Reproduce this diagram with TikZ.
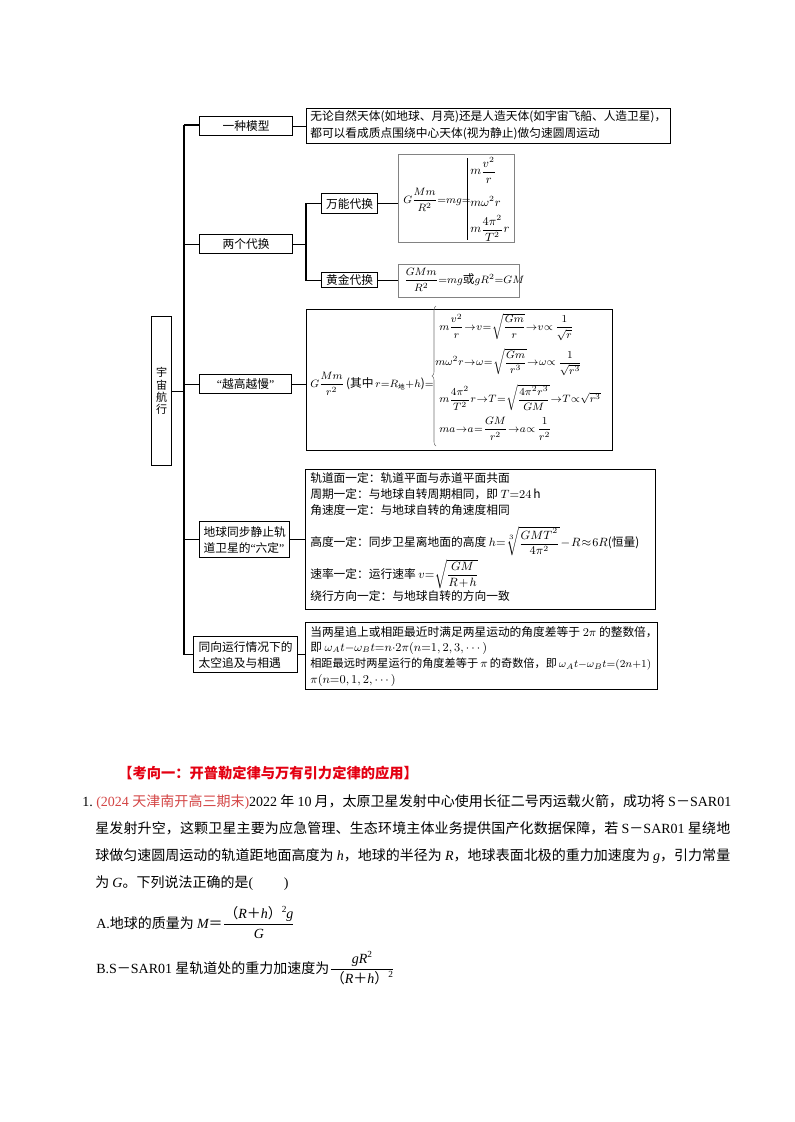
\documentclass[tikz,border=0pt]{standalone}
\usepackage{amsmath}
\usepackage[no-math]{fontspec}
\setmainfont{Noto Sans CJK SC}
\newfontfamily\lat{Liberation Serif}
\usetikzlibrary{decorations.pathreplacing}
\XeTeXlinebreaklocale "zh"
\XeTeXlinebreakskip=0pt plus 2pt minus 0.6pt
\XeTeXlinebreakpenalty=10000
\definecolor{hred}{RGB}{228,0,18}
\definecolor{sred}{RGB}{212,70,70}
\definecolor{bgray}{RGB}{130,130,130}
\newcommand\dfont{\fontsize{8.8}{10.5}\selectfont}
\newcommand\mfont{\fontsize{8}{9.5}\selectfont\thickmuskip=0.8mu plus 1mu\medmuskip=1mu\relax}
\newcommand\nfont{\fontsize{9}{10.5}\selectfont\thickmuskip=1.5mu plus 1mu\medmuskip=1.5mu\relax}
\newcommand\tfont{\fontsize{9}{10.5}\selectfont\thickmuskip=0mu\medmuskip=0mu\relax}
\newcommand\qfont{\fontsize{10.5}{13}\selectfont}
\newcommand\myit[1]{{\lat\itshape #1}}
\newcommand\supt[1]{\raisebox{0.75ex}{\fontsize{7}{8}\selectfont\lat #1}}
\newcommand\qline[1]{\parbox[b]{476.25pt}{\parfillskip=0pt\relax #1}}
\begin{document}
\begin{tikzpicture}[x=0.75pt,y=-0.75pt,
  box/.style={draw,line width=1pt,inner sep=0pt,anchor=north west,font=\dfont},
  gbox/.style={box,draw=bgray},
  wh/.style 2 args={minimum width=#1*0.75pt,minimum height=#2*0.75pt},
  conn/.style={line width=1pt},
  txt/.style={inner sep=0pt,anchor=west,font=\dfont},
  mtxt/.style={inner sep=0pt,anchor=west,font=\mfont},
  ntxt/.style={inner sep=0pt,anchor=west,font=\nfont},
  qtxt/.style={inner sep=0pt,anchor=base west,font=\qfont}]
\fill[white] (0,0) rectangle (794,1122);
\path[use as bounding box] (0,0) rectangle (794,1122);

% ---------- main boxes ----------
\node[box,wh={20}{149},align=center,font=\fontsize{8.3}{9.3}\selectfont] (root) at (151,316) {宇\\宙\\航\\行};
\node[box,wh={93}{19}] (m1) at (199,116) {一种模型};
\node[box,wh={93}{19}] (m2) at (199,234) {两个代换};
\node[box,wh={92}{19}] (m3) at (199,374) {{\lat “}越高越慢{\lat ”}};
\node[box,wh={90}{36},align=left,font=\fontsize{8.8}{12}\selectfont] (m4) at (199,521) {地球同步静止轨\\道卫星的{\lat “}六定{\lat ”}};
\node[box,wh={104}{36},align=left,font=\fontsize{8.8}{12}\selectfont] (m5) at (193,636) {同向运行情况下的\\太空追及与相遇};
\node[box,wh={56}{20}] (s1) at (321,193) {万能代换};
\node[box,wh={56}{15}] (s2) at (321,272) {黄金代换};

% ---------- description boxes ----------
\node[box,wh={364}{35}] (d1) at (306,108) {};
\node[gbox,wh={116}{88}] (f1) at (398,154) {};
\node[gbox,wh={121}{33}] (f2) at (398,264) {};
\node[box,wh={306}{141}] (d3) at (306,309) {};
\node[box,wh={350}{140}] (d4) at (305,469) {};
\node[box,wh={352}{67}] (d5) at (305,622) {};

% ---------- connectors ----------
\coordinate (tTop) at (184,125);
\coordinate (tBot) at (m5.west -| tTop);
\draw[conn] (tTop) -- (tBot) -- (m5.west);
\draw[conn] (tTop) -- (tTop -| m1.west);
\draw[conn] (root.east) -- (root.east -| tTop);
\draw[conn] (m2.west -| tTop) -- (m2.west);
\draw[conn] (m3.west -| tTop) -- (m3.west);
\draw[conn] (m4.west -| tTop) -- (m4.west);
\draw[conn] (m1.east) -- (m1.east -| d1.west);
\coordinate (bx) at (306,243);
\draw[conn] (m2.east) -- (m2.east -| bx);
\draw[conn] (s1.west) -- (s1.west -| bx) -- (s2.west -| bx) -- (s2.west);
\draw[conn] (s1.east) -- (s1.east -| f1.west);
\draw[conn] (s2.east) -- (s2.east -| f2.west);
\draw[conn] (m3.east) -- (m3.east -| d3.west);
\draw[conn] (m4.east) -- (m4.east -| d4.west);
\draw[conn] (m5.east) -- (m5.east -| d5.west);

% ---------- d1 text ----------
\node[txt] (d1a) at (310,117) {无论自然天体(如地球、月亮)还是人造天体(如宇宙飞船、人造卫星)，};
\node[txt] (d1b) at (310,134) {都可以看成质点围绕中心天体(视为静止)做匀速圆周运动};

% ---------- f1 / f2 ----------
\node[mtxt] (f1l) at (403,200) {$G\dfrac{Mm}{R^2}{=}mg{=}$};
\draw[line width=0.7pt] (467,158) -- (467,240);
\node[ntxt] (f1a) at (470,170) {$m\dfrac{v^2}{r}$};
\node[ntxt] (f1b) at (470,201) {$m\omega^2r$};
\node[ntxt] (f1c) at (470,228) {$m\dfrac{4\pi^2}{T^2}r$};
\node[mtxt] (f2a) at (404,280) {$\dfrac{GMm}{R^2}{=}mg${\dfont 或}$gR^2{=}GM$};

% ---------- d3 ----------
\node[mtxt] (d3l) at (310,384) {$G\dfrac{Mm}{r^2}$\,{\dfont(其中}\,$r{=}R_{\mbox{\tiny 地}}{+}h${\dfont)}$=$};
\draw[decorate,decoration={brace,amplitude=3pt},line width=0.4pt,black!55] (436,446) -- (436,306);
\node[mtxt] (r1) at (439,327) {$m\dfrac{v^2}{r}\to v=\sqrt{\dfrac{Gm}{r}}\to v\propto\,\dfrac{1}{\sqrt{r}}$};
\node[mtxt] (r2) at (435,362) {$m\omega^2r\to\omega=\sqrt{\dfrac{Gm}{r^3}}\to\omega\propto\,\dfrac{1}{\sqrt{r^3}}$};
\node[mtxt] (r3) at (439,398) {$m\dfrac{4\pi^2}{T^2}r\to T=\sqrt{\dfrac{4\pi^2r^3}{GM}}\to T\propto\sqrt{r^3}$};
\node[mtxt] (r4) at (439,429) {$ma\to a=\dfrac{GM}{r^2}\to a\propto\,\dfrac{1}{r^2}$};

% ---------- d4 ----------
\node[txt] (d4a) at (310,478) {轨道面一定：轨道平面与赤道平面共面};
\node[txt] (d4b) at (310,494) {周期一定：与地球自转周期相同，即 {\nfont$T{=}24$\,h}};
\node[txt] (d4c) at (310,510) {角速度一定：与地球自转的角速度相同};
\node[txt] (d4d) at (310,541) {高度一定：同步卫星离地面的高度 {\nfont$h{=}\sqrt[3]{\dfrac{GMT^2}{4\pi^2}}-R\approx6R$}(恒量)};
\node[txt] (d4e) at (310,574) {速率一定：运行速率 {\nfont$v{=}\sqrt{\dfrac{GM}{R+h}}$}};
\node[txt] (d4f) at (310,596) {绕行方向一定：与地球自转的方向一致};

% ---------- d5 ----------
\node[txt] (d5a) at (310,632) {当两星追上或相距最近时满足两星运动的角度差等于 {\nfont$2\pi$} 的整数倍，};
\node[txt] (d5b) at (310,648) {即 {\tfont$\omega_At-\omega_Bt=n\cdot2\pi(n=1,2,3,\cdots)$}};
\node[txt,font=\fontsize{8.4}{10}\selectfont] (d5c) at (310,664) {相距最远时两星运行的角度差等于{\nfont$\,\pi\,$}的奇数倍，即{\mfont\thickmuskip=0mu\medmuskip=0mu$\,\omega_At-\omega_Bt=(2n+1)$}};
\node[txt] (d5d) at (310,680) {{\tfont$\pi(n=0,1,2,\cdots)$}};

% ---------- question ----------
\node[qtxt,font=\fontsize{10.7}{12}\selectfont\bfseries,text=hred] (head) at (118,778) {【考向一：开普勒定律与万有引力定律的应用】};
\node[qtxt] (qn) at (82,806) {\lat 1.};
\node[qtxt] (q1) at (96,806) {\qline{{\color{sred}\lat (2024~}{\color{sred}天津南开高三期末}{\color{sred}\lat )}{\lat 2022}~年~{\lat 10}~月，太原卫星发射中心使用长征二号丙运载火箭，成功将~{\lat S}－{\lat SAR01}}};
\node[qtxt] (q2) at (95,833) {\qline{星发射升空，这颗卫星主要为应急管理、生态环境主体业务提供国产化数据保障，若~{\lat S}－{\lat SAR01}~星绕地}};
\node[qtxt] (q3) at (95,860) {\qline{球做匀速圆周运动的轨道距地面高度为~\myit{h}，地球的半径为~\myit{R}，地球表面北极的重力加速度为~\myit{g}，引力常量}};
\node[qtxt] (q4) at (95,887) {为~\myit{G}。下列说法正确的是{\lat (}\hspace{2.2em}{\lat )}};
\node[qtxt] (qa) at (96,928) {{\lat A.}地球的质量为~\myit{M}＝$\dfrac{\mbox{（\myit{R}＋\myit{h}）\supt{2}\myit{g}}}{\mbox{\myit{G}}}$};
\node[qtxt] (qb) at (96,973) {{\lat B.S}－{\lat SAR01}~星轨道处的重力加速度为$\dfrac{\mbox{\myit{gR}\supt{2}}}{\mbox{（\myit{R}＋\myit{h}）\supt{2}}}$};
\end{tikzpicture}
\end{document}
